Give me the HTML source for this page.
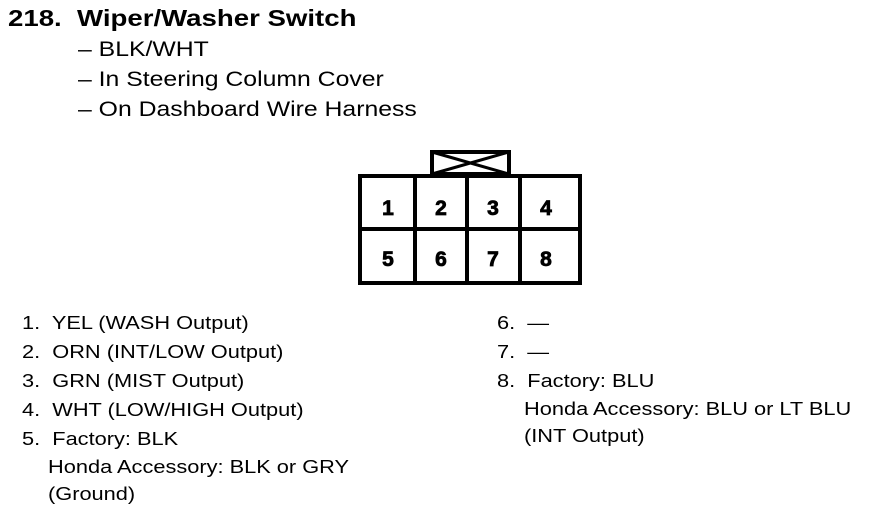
<!DOCTYPE html>
<html><head><style>
body{margin:0;width:880px;height:514px;background:#fff;position:relative;font-family:"Liberation Sans",Arial,sans-serif;color:#000;overflow:hidden}
.t{position:absolute;white-space:nowrap;transform-origin:0 0}
.h{font-weight:bold;font-size:23px;transform:scaleX(1.2)}
.s{font-size:21px;transform:scaleX(1.18)}
.l{font-size:18px;line-height:29px;transform:scaleX(1.21)}
</style></head><body>
<div class="t h" style="left:8px;top:5px">218.&nbsp; Wiper/Washer Switch</div>
<div class="t s" style="left:78px;top:38px">– BLK/WHT</div>
<div class="t s" style="left:78px;top:68px">– In Steering Column Cover</div>
<div class="t s" style="left:78px;top:98px">– On Dashboard Wire Harness</div>
<svg style="position:absolute;left:0;top:0" width="880" height="514">
<g fill="none" stroke="#000" stroke-width="4">
<rect x="432" y="152" width="77" height="22"/>
<path d="M432 152 L509 174 M509 152 L432 174" stroke-width="3"/>
<rect x="360" y="176" width="220" height="107" fill="#fff"/>
<path d="M415 176V283M467 176V283M520 176V283M360 229H580"/>
</g>
<g font-family="Liberation Sans,Arial,sans-serif" font-weight="bold" font-size="21" text-anchor="middle" stroke="#000" stroke-width="0.8">
<text x="388" y="215">1</text><text x="441" y="215">2</text><text x="493" y="215">3</text><text x="546" y="215">4</text>
<text x="388" y="266">5</text><text x="441" y="266">6</text><text x="493" y="266">7</text><text x="546" y="266">8</text>
</g></svg>
<div class="t l" style="left:22px;top:309px">1.&nbsp; YEL (WASH Output)<br>2.&nbsp; ORN (INT/LOW Output)<br>3.&nbsp; GRN (MIST Output)<br>4.&nbsp; WHT (LOW/HIGH Output)<br>5.&nbsp; Factory: BLK</div>
<div class="t l" style="left:48px;top:454px;line-height:27px">Honda Accessory: BLK or GRY<br>(Ground)</div>
<div class="t l" style="left:497px;top:309px">6.&nbsp; —<br>7.&nbsp; —<br>8.&nbsp; Factory: BLU</div>
<div class="t l" style="left:524px;top:396px;line-height:27px">Honda Accessory: BLU or LT BLU<br>(INT Output)</div>
</body></html>
